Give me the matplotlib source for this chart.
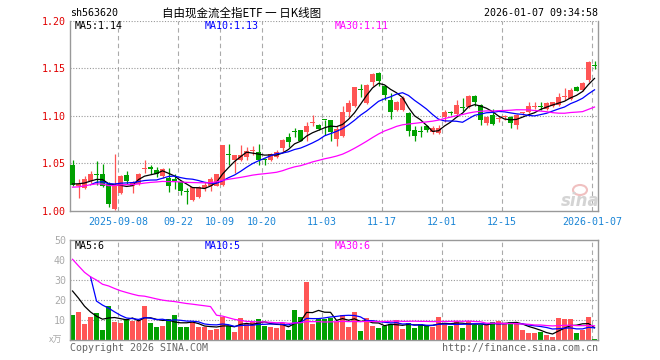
import numpy as np
import pandas as pd
import matplotlib
matplotlib.use("Agg")
import matplotlib.pyplot as plt
from matplotlib.patches import Ellipse

# daily K-line, 88 sessions up to 2026-01-07
opens = [1.048, 1.026, 1.024, 1.032, 1.039, 1.039, 1.028, 1.002, 1.019, 1.038,
         1.026, 1.028, 1.044, 1.046, 1.043, 1.037, 1.035, 1.034, 1.030, 1.021,
         1.012, 1.015, 1.024, 1.026, 1.026, 1.027, 1.060, 1.054, 1.054, 1.057,
         1.0635, 1.062, 1.054, 1.054, 1.057, 1.066, 1.078, 1.083, 1.085, 1.083,
         1.092, 1.090, 1.096, 1.096, 1.076, 1.079, 1.104, 1.110, 1.128, 1.113,
         1.136, 1.145, 1.131, 1.117, 1.106, 1.106, 1.103, 1.085, 1.0835, 1.089,
         1.083, 1.082, 1.099, 1.1035, 1.102, 1.109, 1.109, 1.121, 1.111, 1.092,
         1.101, 1.097, 1.099, 1.099, 1.090, 1.1025, 1.104, 1.1095, 1.110, 1.107,
         1.110, 1.111, 1.1195, 1.118, 1.1305, 1.127, 1.138, 1.153]
closes = [1.027, 1.028, 1.034, 1.039, 1.038, 1.026, 1.007, 1.027, 1.037, 1.032,
          1.030, 1.039, 1.045, 1.044, 1.039, 1.044, 1.026, 1.031, 1.021, 1.020,
          1.025, 1.025, 1.027, 1.034, 1.039, 1.069, 1.059, 1.059, 1.059, 1.063,
          1.064, 1.054, 1.0535, 1.060, 1.062, 1.075, 1.073, 1.0825, 1.074, 1.089,
          1.0925, 1.086, 1.0955, 1.083, 1.086, 1.104, 1.113, 1.130, 1.1275, 1.132,
          1.144, 1.137, 1.122, 1.104, 1.114, 1.119, 1.084, 1.079, 1.083, 1.085,
          1.087, 1.0875, 1.104, 1.103, 1.111, 1.1085, 1.121, 1.115, 1.096, 1.099,
          1.091, 1.0975, 1.0995, 1.092, 1.101, 1.103, 1.110, 1.110, 1.1095, 1.113,
          1.114, 1.120, 1.120, 1.127, 1.1265, 1.134, 1.157, 1.152]
highs = [1.054, 1.034, 1.037, 1.042, 1.052, 1.049, 1.030, 1.060, 1.038, 1.042,
         1.032, 1.040, 1.054, 1.048, 1.046, 1.045, 1.045, 1.039, 1.031, 1.024,
         1.025, 1.026, 1.030, 1.036, 1.039, 1.069, 1.070, 1.059, 1.069, 1.067,
         1.068, 1.070, 1.056, 1.061, 1.064, 1.076, 1.082, 1.087, 1.0855, 1.093,
         1.101, 1.091, 1.096, 1.096, 1.089, 1.110, 1.117, 1.130, 1.133, 1.133,
         1.1446, 1.146, 1.131, 1.124, 1.116, 1.121, 1.104, 1.089, 1.089, 1.090,
         1.089, 1.090, 1.106, 1.105, 1.117, 1.119, 1.122, 1.122, 1.112, 1.100,
         1.107, 1.100, 1.101, 1.100, 1.102, 1.104, 1.115, 1.115, 1.114, 1.114,
         1.115, 1.124, 1.129, 1.129, 1.131, 1.135, 1.158, 1.158]
lows = [1.026, 1.014, 1.023, 1.029, 1.027, 1.025, 1.004, 1.001, 1.018, 1.028,
        1.019, 1.027, 1.040, 1.039, 1.036, 1.035, 1.020, 1.023, 1.017, 1.007,
        1.011, 1.014, 1.021, 1.021, 1.026, 1.026, 1.048, 1.040, 1.053, 1.054,
        1.059, 1.048, 1.048, 1.053, 1.056, 1.062, 1.067, 1.078, 1.0735, 1.074,
        1.0895, 1.085, 1.080, 1.074, 1.068, 1.078, 1.099, 1.109, 1.120, 1.112,
        1.131, 1.131, 1.117, 1.097, 1.105, 1.105, 1.079, 1.074, 1.078, 1.083,
        1.081, 1.081, 1.094, 1.101, 1.101, 1.105, 1.108, 1.110, 1.090, 1.090,
        1.090, 1.094, 1.096, 1.0875, 1.086, 1.101, 1.103, 1.107, 1.106, 1.106,
        1.109, 1.110, 1.117, 1.117, 1.126, 1.126, 1.136, 1.149]
# volume in 万
volumes = [12.5, 14, 8, 11.5, 13.5, 5, 17, 9.2, 8.7, 10.5,
           9.7, 9.7, 17, 8.7, 6.5, 7, 10.5, 12.5, 6.5, 6.5,
           9, 6.5, 6.5, 5, 5.5, 11.5, 7, 4, 11, 8,
           9, 10.5, 7, 6.5, 6, 8.5, 5, 15, 11.5, 29,
           8, 10.5, 10.5, 11.2, 8.8, 12.5, 6.5, 14, 4.5, 11,
           7, 6, 7.2, 8, 10, 5.5, 8.3, 6, 8, 7.7,
           6.5, 11.5, 8, 7, 9.5, 6, 9.5, 7.5, 7.5, 7.5,
           9, 9.5, 8, 9, 8.5, 5, 3.5, 3.5, 4, 2.5,
           1.5, 11, 10.5, 10.5, 3.5, 5, 11.5, 0.5]

# first sessions after listing (before the window) - only feed the MAs
pre_close = [1.012, 1.021, 1.027, 1.030, 1.029, 1.029]
pre_volume = [135, 25, 32, 28, 26, 24]

# legend values as printed on the chart
price_ma_text = ['MA5:1.14', 'MA10:1.13', 'MA30:1.11']
vol_ma_text = ['MA5:6', 'MA10:5', 'MA30:6']

tick_days = [8, 18, 25, 32, 42, 52, 62, 72, 87]
tick_labels = ['2025-09-08', '09-22', '10-09', '10-20', '11-03',
               '11-17', '12-01', '12-15', '2026-01-07']

RED = '#ff5555'
GREEN = '#00a000'
GRID = '#aaaaaa'
MONO = 'DejaVu Sans Mono'
MA_COLORS = ['black', '#0000ff', '#ff00ff']

n = len(closes)
x = np.arange(n)
o = np.array(opens)
c = np.array(closes)
up = c >= o
colors = [RED if u else GREEN for u in up]

# moving averages (MA30 uses whatever history exists)
cs = pd.Series(pre_close + closes)
vs = pd.Series(pre_volume + volumes)
k = len(pre_close)
ma5 = cs.rolling(5).mean().values[k:]
ma10 = cs.rolling(10).mean().values[k:]
ma30 = cs.rolling(30, min_periods=1).mean().values[k:]
vma5 = vs.rolling(5).mean().values[k:]
vma10 = vs.rolling(10).mean().values[k:]
vma30 = vs.rolling(30, min_periods=1).mean().values[k:]

W, H = 660, 360
fig = plt.figure(figsize=(W / 100, H / 100), dpi=100)
ax = fig.add_axes([70 / W, 149 / H, 528 / W, 190.4 / H])
axv = fig.add_axes([70 / W, 20 / H, 528 / W, 100 / H])

grid_x = np.array(tick_days) - 0.4
for a in (ax, axv):
    a.set_xlim(-0.42, n - 0.42)
    for gx in grid_x:
        a.axvline(gx, color=GRID, lw=0.8, ls=(0, (4, 3)), zorder=0)
    for s in a.spines.values():
        s.set_color('#999999')
        s.set_linewidth(1.0)
    a.tick_params(length=0)

# ---- price panel ----
ax.set_ylim(1.0, 1.2)
for gy in [1.05, 1.10, 1.15, 1.20]:
    ax.axhline(gy, color='#999999', lw=0.8, ls=(0, (1, 1.5)), zorder=0)
ax.spines['top'].set_visible(False)

ax.vlines(x, lows, highs, colors=colors, lw=0.9, zorder=2)
body_h = np.maximum(np.abs(c - o), 0.0011)
ax.bar(x, body_h, bottom=np.minimum(o, c), width=0.82, color=colors,
       linewidth=0, zorder=3)

for ma, col in zip([ma5, ma10, ma30], MA_COLORS):
    ax.plot(x, ma, color=col, lw=0.9, zorder=4)

ax.set_yticks([1.00, 1.05, 1.10, 1.15, 1.20])
ax.set_yticklabels(['%.2f' % v for v in [1.00, 1.05, 1.10, 1.15, 1.20]],
                   color='#e00000', fontsize=7.2, family=MONO)
ax.tick_params(axis='y', pad=3)
ax.set_xticks(grid_x)
ax.set_xticklabels(tick_labels, color='#1a85d6', fontsize=7.2, family=MONO)
ax.tick_params(axis='x', pad=4)

# ---- volume panel ----
axv.set_ylim(0, 50)
for gy in [10, 20, 30, 40]:
    axv.axhline(gy, color='#999999', lw=0.8, ls=(0, (1, 1.5)), zorder=0)
axv.bar(x, volumes, width=0.82, color=colors, linewidth=0, zorder=2)
for ma, col in zip([vma5, vma10, vma30], MA_COLORS):
    axv.plot(x, ma, color=col, lw=0.9, zorder=3)
axv.set_yticks([10, 20, 30, 40, 50])
axv.set_yticklabels(['10', '20', '30', '40', '50'], color='#aaaaaa',
                    fontsize=7.2, family=MONO)
axv.tick_params(axis='y', pad=3)
axv.set_xticks([])


def ftext(px, py, s, **kw):
    fig.text(px / W, 1 - py / H, s, **kw)


# header
ftext(70, 13, 'sh563620', ha='left', va='center', fontsize=7.2, family=MONO)
ftext(242, 13, '自由现金流全指ETF 一 日K线图', ha='center', va='center',
      fontsize=8.3, family=['Noto Sans CJK SC', 'DejaVu Sans'])
ftext(598, 13, '2026-01-07 09:34:58', ha='right', va='center',
      fontsize=7.2, family=MONO)

# MA legends
for px, s, col in zip([75, 205, 335], price_ma_text, MA_COLORS):
    ftext(px, 26, s, ha='left', va='center', fontsize=7.2, family=MONO, color=col)
for px, s, col in zip([75, 205, 335], vol_ma_text, MA_COLORS):
    ftext(px, 246, s, ha='left', va='center', fontsize=7.2, family=MONO, color=col)

# footer
ftext(56, 340, 'x万', ha='center', va='center', fontsize=6.5,
      family=['Noto Sans CJK SC', 'DejaVu Sans'], color='#aaaaaa')
ftext(70, 348, 'Copyright 2026 SINA.COM', ha='left', va='center',
      fontsize=7.2, family=MONO, color='#666666')
ftext(598, 348, 'http://finance.sina.com.cn', ha='right', va='center',
      fontsize=7.2, family=MONO, color='#666666')

# sina watermark (eye drawn as a patch, word as text)
fig.patches.append(Ellipse((580 / W, 1 - 190 / H), 14 / W, 10 / H,
                           transform=fig.transFigure, facecolor='none',
                           edgecolor='#f0c0c0', lw=1.5))
ftext(580, 201, 'sina', ha='center', va='center', fontsize=12,
      weight='bold', style='italic', color='#d4d4d4')

fig.savefig('out.png', dpi=100)
